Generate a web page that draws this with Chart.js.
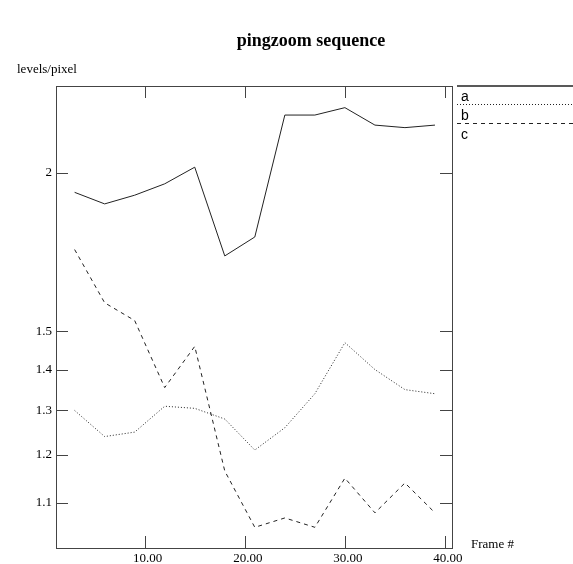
<!DOCTYPE html>
<html>
<head>
<meta charset="utf-8">
<script src="https://cdn.jsdelivr.net/npm/chart.js@4"></script>
<style>
  body { margin: 0; background: #fff; }
  canvas { display: block; }
</style>
</head>
<body>
<canvas id="pingChart" width="573" height="564"></canvas>
<script>
// frame numbers and levels/pixel
const frames = [3, 6, 9, 12, 15, 18, 21, 24, 27, 30, 33, 36, 39];
const seriesA = [1.93, 1.89, 1.92, 1.96, 2.02, 1.72, 1.78, 2.22, 2.22, 2.25, 2.18, 2.17, 2.18];
const seriesB = [1.30, 1.24, 1.25, 1.31, 1.305, 1.28, 1.21, 1.26, 1.34, 1.47, 1.40, 1.35, 1.34];
const seriesC = [1.74, 1.58, 1.53, 1.355, 1.46, 1.165, 1.052, 1.07, 1.052, 1.15, 1.08, 1.14, 1.08];
const seriesNames = ['a', 'b', 'c'];
const xTicks = [10, 20, 30, 40];
const yTicks = [1.1, 1.2, 1.3, 1.4, 1.5, 2];

const ink = '#222';
const serif = '"Liberation Serif", "DejaVu Serif", serif';
const sans = '"Liberation Sans", Arial, sans-serif';

function toPoints(vals) {
    return frames.map((f, i) => ({ x: f, y: vals[i] }));
}

// box, inward ticks, title, axis captions and the line legend
const decorations = {
    id: 'decorations',
    afterDraw(chart) {
        const ctx = chart.ctx;
        const a = chart.chartArea;
        const xs = chart.scales.x;
        const ys = chart.scales.y;
        ctx.save();
        ctx.strokeStyle = '#444';
        ctx.lineWidth = 1;
        ctx.strokeRect(a.left + 0.5, a.top + 0.5, a.right - a.left, a.bottom - a.top);
        ctx.beginPath();
        xTicks.forEach(v => {
            const px = Math.round(xs.getPixelForValue(v)) + 0.5;
            ctx.moveTo(px, a.bottom); ctx.lineTo(px, a.bottom - 12);
            ctx.moveTo(px, a.top); ctx.lineTo(px, a.top + 12);
        });
        yTicks.forEach(v => {
            const py = Math.round(ys.getPixelForValue(v)) + 0.5;
            ctx.moveTo(a.left, py); ctx.lineTo(a.left + 12, py);
            ctx.moveTo(a.right, py); ctx.lineTo(a.right - 12, py);
        });
        ctx.stroke();

        ctx.fillStyle = '#000';
        ctx.font = 'bold 18px ' + serif;
        ctx.textAlign = 'center';
        ctx.textBaseline = 'alphabetic';
        ctx.fillText('pingzoom sequence', 311, 46);

        ctx.font = '13px ' + serif;
        ctx.textAlign = 'left';
        ctx.fillText('levels/pixel', 17, 73);
        ctx.fillText('Frame #', 471, 548);

        // legend: a full-width line sample with its letter under it
        ctx.font = '14px ' + sans;
        const rows = [86, 104.5, 123.5];
        chart.data.datasets.forEach((ds, i) => {
            ctx.setLineDash(ds.borderDash || []);
            ctx.strokeStyle = ink;
            ctx.lineWidth = i === 0 ? 1.5 : 1;
            ctx.beginPath();
            ctx.moveTo(457, rows[i]);
            ctx.lineTo(573, rows[i]);
            ctx.stroke();
            ctx.fillText(ds.label, 461, rows[i] + 15);
        });
        ctx.restore();
    }
};

new Chart(document.getElementById('pingChart'), {
    type: 'line',
    data: {
        datasets: [
            { label: seriesNames[0], data: toPoints(seriesA), borderDash: [] },
            { label: seriesNames[1], data: toPoints(seriesB), borderDash: [1, 2] },
            { label: seriesNames[2], data: toPoints(seriesC), borderDash: [4, 4] }
        ].map(ds => Object.assign(ds, {
            borderColor: ink,
            borderWidth: 1,
            pointRadius: 0,
            tension: 0,
            fill: false
        }))
    },
    options: {
        responsive: false,
        animation: false,
        layout: { padding: { left: 0, top: 86, right: 121, bottom: 0 } },
        plugins: {
            legend: { display: false },
            title: { display: false },
            tooltip: { enabled: false }
        },
        scales: {
            x: {
                type: 'linear',
                min: 1.14,
                max: 40.7,
                afterBuildTicks: s => { s.ticks = xTicks.map(v => ({ value: v })); },
                afterFit: s => { s.height = 16; },
                grid: { display: false, drawTicks: false },
                border: { display: false },
                ticks: {
                    padding: 3,
                    labelOffset: 3,
                    color: '#000',
                    font: { family: serif, size: 13 },
                    callback: v => v.toFixed(2)
                }
            },
            y: {
                type: 'logarithmic',
                min: 1.0133,
                max: 2.34,
                afterBuildTicks: s => { s.ticks = yTicks.map(v => ({ value: v })); },
                afterFit: s => { s.width = 56; },
                grid: { display: false, drawTicks: false },
                border: { display: false },
                ticks: {
                    padding: 4,
                    color: '#000',
                    font: { family: serif, size: 13 },
                    callback: v => String(v)
                }
            }
        }
    },
    plugins: [decorations]
});
</script>
</body>
</html>
